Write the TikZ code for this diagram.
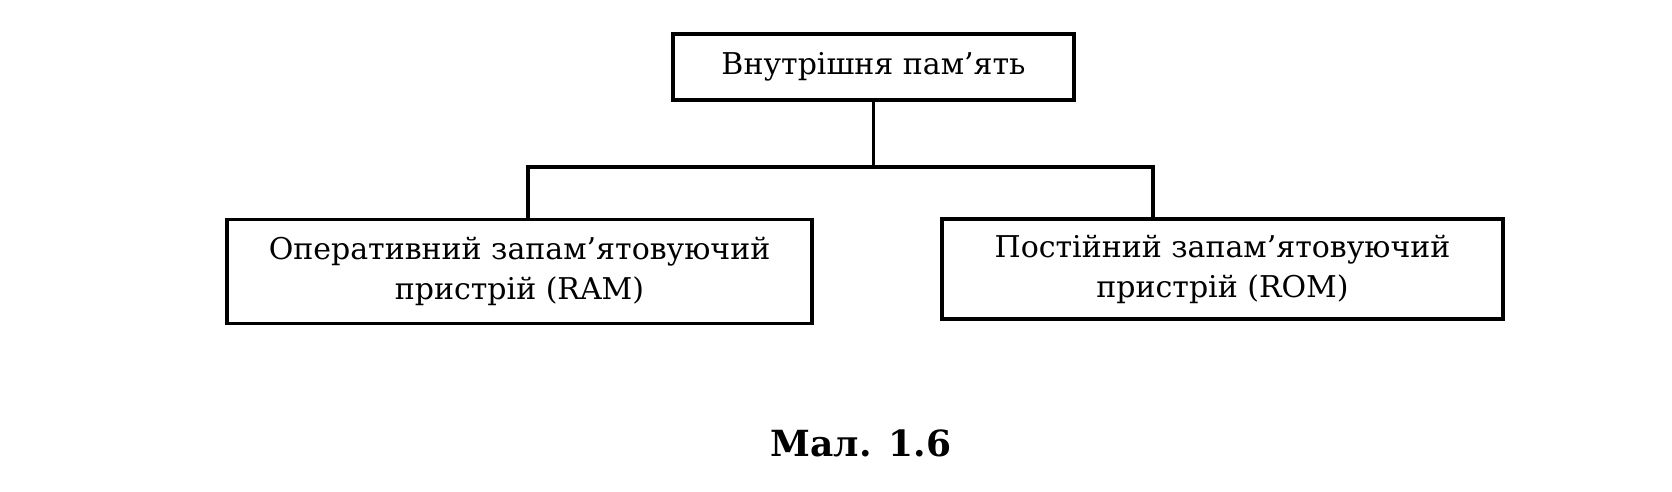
\documentclass[tikz,border=0pt]{standalone}
\usepackage{fontspec}
\setmainfont{DejaVu Serif}
\begin{document}
\begin{tikzpicture}[x=0.5pt,y=-0.5pt,
  box/.style={draw, line width=1.7pt, inner sep=0pt, align=center, font=\fontsize{15}{20}\selectfont},
  conn/.style={line width=1.7pt}]
\useasboundingbox (0,0) rectangle (1672,492);
\node[box, minimum width=200.5pt, minimum height=33pt] (top) at (873.5,67) {Внутрішня пам’ять};
\node[box, minimum width=292.5pt, minimum height=52pt] (ram) at (519.5,271.5) {Оперативний запам’ятовуючий\\пристрій (RAM)};
\node[box, minimum width=280.5pt, minimum height=50pt] (rom) at (1222.5,269) {Постійний запам’ятовуючий\\пристрій (ROM)};
\coordinate (mid) at (873.5,167);
\coordinate (jl) at (528,167);
\coordinate (jr) at (1153,167);
\draw[conn] (top.south) -- (mid);
\draw[conn] (jl |- ram.north) -- (jl) -- (jr) -- (jr |- rom.north);
\node[font=\bfseries\fontsize{18}{22}\selectfont] (cap) at (861,443) {Мал. 1.6};
\end{tikzpicture}
\end{document}
